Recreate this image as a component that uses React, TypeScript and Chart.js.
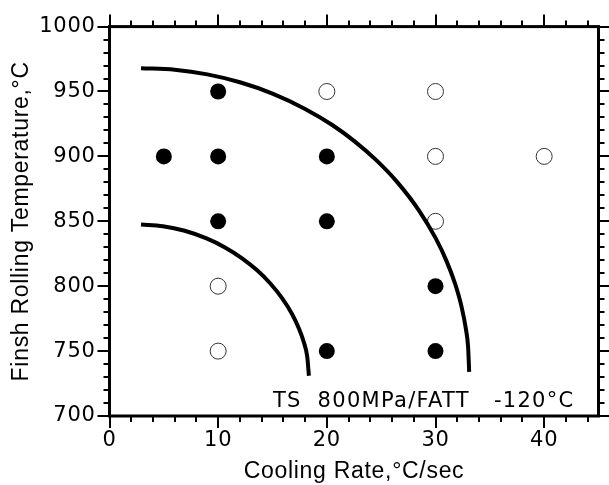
import React, { useEffect, useRef } from 'react';
import { Chart, registerables } from 'chart.js';

Chart.register(...registerables);

// ---- data ----
const xTickLabels = [0, 10, 20, 30, 40];
const yTickLabels = [700, 750, 800, 850, 900, 950, 1000];

const filledX = [5, 10, 10, 10, 20, 20, 20, 30, 30];
const filledY = [900, 950, 900, 850, 900, 850, 750, 800, 750];

const openX = [10, 10, 20, 30, 30, 30, 40];
const openY = [800, 750, 950, 950, 900, 850, 900];

const outerCurveX = [2.9, 6, 9, 12, 15, 18, 20.5, 22.5, 24.5, 26.5, 28.5, 30, 31, 31.8, 32.4, 32.8, 33.0, 33.1];
const outerCurveY = [968, 966.8, 963.2, 957.1, 948.4, 936.6, 924.2, 912, 897.5, 880, 858.1, 837.2, 819.7, 801.9, 784.1, 766.9, 753.1, 734];

const innerCurveX = [2.9, 4.91, 6.92, 8.93, 10.63, 12.17, 13.56, 14.8, 15.88, 16.81, 17.42, 17.89, 18.2, 18.35];
const innerCurveY = [847.5, 846.2, 842.7, 836.8, 829.9, 821.7, 812.4, 802.1, 790.8, 778.4, 767.6, 756.6, 745.4, 731];

const xTitle = 'Cooling Rate,°C/sec';
const yTitle = 'Finsh Rolling Temperature,°C';
const annotation = 'TS  800MPa/FATT   -120°C';

const xMinorStep = 2;
const yMinorStep = 10;

const zip = (xs: number[], ys: number[]) => xs.map((x, i) => ({ x, y: ys[i] }));

const framePlugin = {
  id: 'frameTicks',
  beforeDraw(chart: any) {
    chart.ctx.letterSpacing = '0.7px';
  },
  afterDraw(chart: any) {
    const { ctx, chartArea: a, scales } = chart;
    const x = scales.x;
    const y = scales.y;
    ctx.save();
    ctx.strokeStyle = '#000';
    ctx.lineWidth = 3;
    ctx.strokeRect(a.left, a.top, a.right - a.left, a.bottom - a.top);
    ctx.lineWidth = 2;
    ctx.beginPath();
    for (let v = x.min; v <= x.max + 1e-9; v += xMinorStep) {
      const px = Math.round(x.getPixelForValue(v));
      const len = Math.abs(v % 10) < 1e-9 ? 12 : 6;
      ctx.moveTo(px, a.bottom);
      ctx.lineTo(px, a.bottom + len);
      ctx.moveTo(px, a.top);
      ctx.lineTo(px, a.top - len);
    }
    for (let v = y.min; v <= y.max + 1e-9; v += yMinorStep) {
      const py = Math.round(y.getPixelForValue(v));
      const len = Math.abs(v % 50) < 1e-9 ? 12 : 6;
      ctx.moveTo(a.left, py);
      ctx.lineTo(a.left - len, py);
      ctx.moveTo(a.right, py);
      ctx.lineTo(a.right + len, py);
    }
    ctx.stroke();
    ctx.fillStyle = '#000';
    ctx.font = '21px "DejaVu Sans"';
    ctx.textAlign = 'right';
    ctx.textBaseline = 'alphabetic';
    ctx.letterSpacing = '1.3px';
    ctx.fillText(annotation, a.right - 24, a.bottom - 9);
    ctx.restore();
  },
};

export default function App() {
  const ref = useRef<HTMLCanvasElement>(null);
  useEffect(() => {
    if (!ref.current) return;
    const tickFont = { family: '"DejaVu Sans"', size: 21 };
    const titleFont = { family: '"Liberation Sans", Arial', size: 23 };
    const chart = new Chart(ref.current, {
      type: 'scatter',
      data: {
        datasets: [
          {
            data: zip(outerCurveX, outerCurveY),
            showLine: true,
            borderColor: '#000',
            borderWidth: 4,
            pointRadius: 0,
            cubicInterpolationMode: 'monotone',
            fill: false,
          },
          {
            data: zip(innerCurveX, innerCurveY),
            showLine: true,
            borderColor: '#000',
            borderWidth: 4,
            pointRadius: 0,
            cubicInterpolationMode: 'monotone',
            fill: false,
          },
          {
            data: zip(filledX, filledY),
            pointRadius: 8,
            backgroundColor: '#000',
            borderColor: '#000',
            borderWidth: 0,
          },
          {
            data: zip(openX, openY),
            pointRadius: 8,
            backgroundColor: '#fff',
            borderColor: '#333',
            borderWidth: 1,
          },
        ],
      } as any,
      options: {
        animation: false,
        responsive: false,
        devicePixelRatio: 1,
        events: [],
        layout: { padding: { left: 0, top: 24, right: 10.5, bottom: 0 } },
        plugins: { legend: { display: false }, tooltip: { enabled: false } },
        scales: {
          x: {
            type: 'linear',
            position: 'bottom',
            min: 0,
            max: 45,
            afterBuildTicks: (s: any) => {
              s.ticks = xTickLabels.map((v) => ({ value: v }));
            },
            afterFit: (s: any) => {
              s.height = 69;
            },
            grid: { display: false, drawTicks: false },
            border: { display: false },
            ticks: { autoSkip: false, maxRotation: 0, padding: 12, color: '#000', font: tickFont, callback: (v: any) => String(v) },
            title: { display: true, text: xTitle, color: '#000', font: titleFont, padding: { top: 0, bottom: 0 } },
          },
          y: {
            type: 'linear',
            position: 'left',
            min: 700,
            max: 1000,
            afterBuildTicks: (s: any) => {
              s.ticks = yTickLabels.map((v) => ({ value: v }));
            },
            afterFit: (s: any) => {
              s.width = 109.5;
            },
            grid: { display: false, drawTicks: false },
            border: { display: false },
            ticks: { autoSkip: false, padding: 14, color: '#000', font: tickFont, callback: (v: any) => String(v) },
            title: { display: true, text: yTitle, color: '#000', font: titleFont, padding: { top: 8, bottom: 0 } },
          },
        },
      } as any,
      plugins: [framePlugin],
    });
    return () => chart.destroy();
  }, []);
  return (
    <div style={{ position: 'fixed', left: 0, top: 0, width: 609, height: 485, background: '#fff' }}>
      <canvas ref={ref} width={609} height={485} style={{ display: 'block' }} />
    </div>
  );
}
